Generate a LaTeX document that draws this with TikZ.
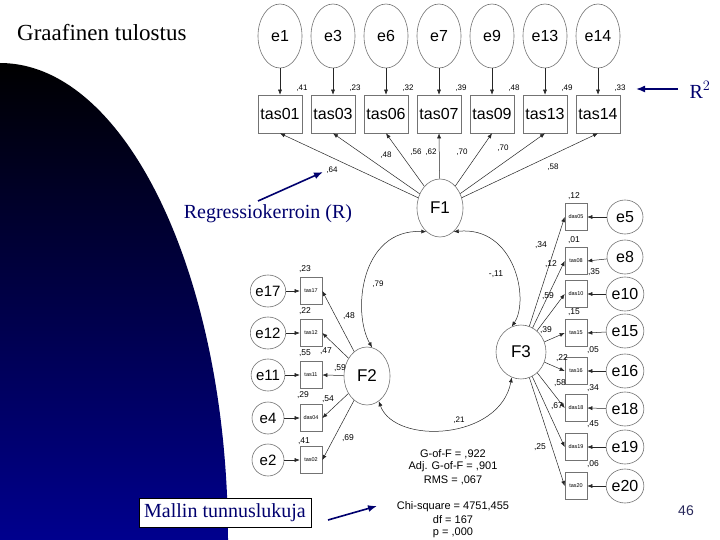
\documentclass[tikz,border=0pt]{standalone}
\usepackage{fontspec}
\setmainfont{Liberation Serif}
\newfontfamily\arialf{Liberation Sans}
\usetikzlibrary{shapes.geometric,arrows.meta}
\definecolor{navyA}{RGB}{0,0,110}
\definecolor{blueB}{RGB}{0,0,142}
\definecolor{numc}{RGB}{40,40,90}
\begin{document}
\begin{tikzpicture}[x=1pt,y=1pt,
  every node/.style={inner sep=0pt},
  lat/.style={ellipse, draw=black!55, line width=0.6pt, font=\arialf\fontsize{16}{16}\selectfont},
  obs/.style={rectangle, draw=black!55, line width=0.6pt, font=\arialf\fontsize{16}{16}\selectfont, minimum width=44pt, minimum height=38pt},
  sobs/.style={rectangle, draw=black!55, line width=0.6pt, font=\arialf\fontsize{5.5}{5.5}\selectfont, minimum width=22pt, minimum height=27pt},
  serr/.style={ellipse, draw=black!55, line width=0.6pt, font=\arialf\fontsize{16}{16}\selectfont, minimum width=36pt, minimum height=34pt},
  lerr/.style={ellipse, draw=black!55, line width=0.6pt, font=\arialf\fontsize{15}{15}\selectfont, minimum width=32pt, minimum height=32pt},
  fac/.style={ellipse, draw=black!55, line width=0.6pt, font=\arialf\fontsize{17}{17}\selectfont},
  lab/.style={font=\arialf\fontsize{8.5}{8.5}\selectfont},
  tlab/.style={font=\arialf\fontsize{8}{8}\selectfont},
  arr/.style={-{Latex[length=5pt,width=4pt]}, line width=0.5pt, black!85},
  dbl/.style={{Latex[length=5pt,width=4pt]}-{Latex[length=5pt,width=4pt]}, line width=0.5pt, black!85},
  navyarr/.style={-{Latex[length=9pt,width=7pt]}, line width=1.6pt, navyA},
  stat/.style={font=\arialf\fontsize{11}{11}\selectfont}]
\useasboundingbox (0,0) rectangle (720,-540);
\fill[white] (0,0) rectangle (720,-540);
% background blue shape
\shade[top color=black, bottom color=blueB] (0,-63) arc[start angle=90, end angle=0, x radius=228pt, y radius=477pt] -- (0,-540) -- cycle;
% title
\node[font=\fontsize{23}{23}\selectfont, anchor=west] (title) at (17,-33) {Graafinen tulostus};
% top row
\foreach \e/\t/\r [count=\i from 0] in {1/01/41,3/03/23,6/06/32,7/07/39,9/09/48,13/13/49,14/14/33}{
  \node[lat, minimum width=44pt, minimum height=64pt] (e\e) at ({280+53*\i},-36) {e\e};
  \node[obs] (tas\t) at ({280+53*\i},-114) {tas\t};
  \draw[arr] (e\e) -- (tas\t);
  \node[tlab] at ({302+53*\i},-88) {,\r};
}
% F1
\node[fac, minimum width=46pt, minimum height=58pt] (F1) at (440,-208) {F1};
\foreach \t in {01,03,06,07,09,13,14}{ \draw[arr] (F1) -- (tas\t.south); }
\node[tlab] (l64) at (332,-170) {,64};
\node[tlab] at (386,-155) {,48};
\node[tlab] at (416,-152) {,56};
\node[tlab] at (431,-152) {,62};
\node[tlab] at (462,-152) {,70};
\node[tlab] at (503,-148) {,70};
\node[tlab] at (553,-167) {,58};
% F3 group
\node[fac, minimum width=50pt, minimum height=54pt] (F3) at (521,-352) {F3};
\foreach \b/\e/\yb/\ye in {das05/5/217/217, tas08/8/261/257, das10/10/294/294, tas15/15/333/331, tas16/16/371/371, das18/18/408/409, das19/19/447/447, tas20/20/486/486}{
  \node[sobs] (\b) at (576,-\yb) {\b};
  \node[serr] (e\e) at (625,-\ye) {e\e};
  \draw[arr] (e\e) -- (\b.east);
  \draw[arr] (F3) -- (\b.west);
}
\foreach \x/\y/\v in {574/196/12, 574/240/01, 594/272/35, 574/312/15, 593/350/05, 593/388/34, 593/424/45, 593/464/06}{
  \node[lab] at (\x,-\y) {,\v};
}
\foreach \x/\y/\v in {541/245/34, 551/264/12, 548/296/59, 546/330/39, 562/358/22, 560/383/58, 557/406/67, 540/447/25}{
  \node[lab] at (\x,-\y) {,\v};
}
% F2 group
\node[fac, minimum width=46pt, minimum height=58pt] (F2) at (367,-376) {F2};
\foreach \b/\e/\yb in {tas17/17/291, tas12/12/333, tas11/11/375, das04/4/418, tas02/2/460}{
  \node[sobs] (\b) at (311,-\yb) {\b};
  \node[lerr] (e\e) at (268,-\yb) {e\e};
  \draw[arr] (e\e) -- (\b.west);
  \draw[arr] (F2) -- (\b.east);
}
\foreach \x/\y/\v in {305/269/23, 305/311/22, 305/353/55, 326/351/47, 349/316/48, 340/368/59, 303/395/29, 328/399/54, 304/441/41, 348/438/69}{
  \node[lab] at (\x,-\y) {,\v};
}
% correlations
\draw[dbl] (F1.240) .. controls +(-66,3) and +(-20,35) .. (F2.80);
\draw[dbl] (F1.300) .. controls +(61,6) and +(18,27) .. (F3.110);
\draw[dbl] (F2.295) .. controls +(16,-44) and +(-12,-63) .. (F3.250);
\node[tlab] at (378,-284) {,79};
\node[lab] at (496,-274) {-,11};
\node[tlab] at (459,-420) {,21};
% fit statistics
\foreach \y/\s in {454/{G-of-F = ,922}, 467/{Adj. G-of-F = ,901}, 480/{RMS = ,067}, 507/{Chi-square = 4751,455}, 520/{df = 167}, 533/{p = ,000}}{
  \node[stat] at (453,-\y) {\s};
}
% annotations
\node[font=\fontsize{20}{20}\selectfont, text=navyA] (reg) at (268,-214) {Regressiokerroin (R)};
\coordinate (regA) at (258,-201);
\coordinate (regB) at (323,-172);
\draw[navyarr] (regA) -- (regB);
\node[font=\fontsize{20}{20}\selectfont, text=navyA] (r2) at (700,-90) {R$^2$};
\coordinate (r2A) at (678,-89);
\coordinate (r2B) at (636,-89);
\draw[navyarr] (r2A) -- (r2B);
\node[draw=black, line width=0.6pt, fill=white, minimum width=172pt, minimum height=29pt, font=\fontsize{20}{20}\selectfont, text=navyA] (mallin) at (225,-512.5) {Mallin tunnuslukuja};
\coordinate (mA) at (328,-520);
\coordinate (mB) at (377,-506);
\draw[navyarr] (mA) -- (mB);
\node[font=\arialf\fontsize{14}{14}\selectfont, text=numc] (pg) at (686,-511) {46};
\end{tikzpicture}
\end{document}
